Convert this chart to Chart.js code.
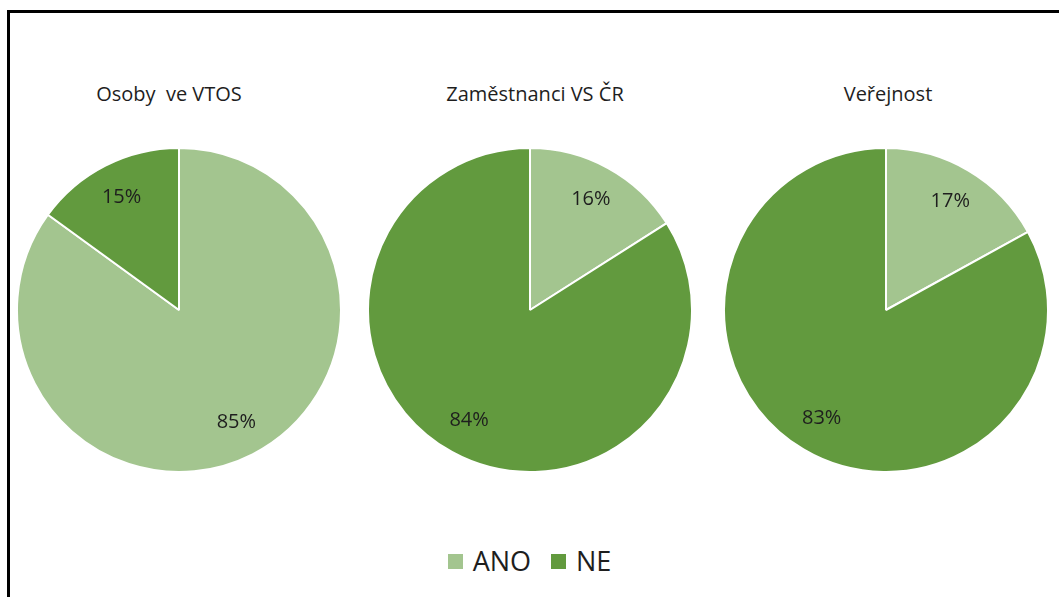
<!DOCTYPE html>
<html lang="cs">
<head>
<meta charset="UTF-8">
<script src="https://cdn.jsdelivr.net/npm/chart.js"></script>
<title>ANO / NE</title>
<style>
    body {
        margin: 0;
        background: #ffffff;
        width: 1059px;
        height: 597px;
        overflow: hidden;
        position: relative;
        font-family: 'Open Sans', sans-serif;
        color: #1e1e1e;
    }

    /* frame: only left and top edges are visible in the original */
    .frame {
        position: absolute;
        left: 7px;
        top: 10px;
        width: 1100px;
        height: 700px;
        border-left: 3px solid #000;
        border-top: 3px solid #000;
    }

    .title {
        position: absolute;
        top: 80px;
        width: 340px;
        text-align: center;
        font-size: 20px;
        white-space: pre;
    }

    .pie {
        position: absolute;
        top: 147px;
        width: 326px;
        height: 326px;
    }

    .legend {
        position: absolute;
        top: 542px;
        left: 0;
        width: 1059px;
        text-align: center;
        font-size: 27px;
    }

    .legend span.item {
        display: inline-block;
        margin: 0 10px;
    }

    .legend i {
        display: inline-block;
        width: 15px;
        height: 15px;
        margin-right: 10px;
        vertical-align: 2px;
    }
</style>
</head>
<body>
<div class="frame"></div>
<div id="titles"></div>
<div class="pie" style="left:16px"><canvas id="pie0"></canvas></div>
<div class="pie" style="left:367px"><canvas id="pie1"></canvas></div>
<div class="pie" style="left:723px"><canvas id="pie2"></canvas></div>
<div class="legend" id="legend"></div>

<script>
    // Data
    const categories = ['ANO', 'NE'];
    const groups = ['Osoby  ve VTOS', 'Zaměstnanci VS ČR', 'Veřejnost'];
    const ano = [85, 16, 17];
    const ne = [15, 84, 83];
    const colors = ['#a3c58f', '#629a3e'];

    const titleCenters = [169, 535, 888];

    // titles
    const titles = document.getElementById('titles');
    groups.forEach((g, i) => {
        const d = document.createElement('div');
        d.className = 'title';
        d.style.left = (titleCenters[i] - 170) + 'px';
        d.textContent = g;
        titles.appendChild(d);
    });

    // legend
    const legend = document.getElementById('legend');
    categories.forEach((c, i) => {
        const s = document.createElement('span');
        s.className = 'item';
        s.innerHTML = '<i style="background:' + colors[i] + '"></i>' + c;
        legend.appendChild(s);
    });

    // simple percent labels inside the slices
    const pctLabels = {
        id: 'pctLabels',
        afterDatasetsDraw(chart) {
            const ctx = chart.ctx;
            const meta = chart.getDatasetMeta(0);
            ctx.save();
            ctx.font = '20px "Open Sans", sans-serif';
            ctx.fillStyle = '#1e1e1e';
            ctx.textAlign = 'center';
            ctx.textBaseline = 'middle';
            meta.data.forEach((arc, i) => {
                const p = arc.getProps(['x', 'y', 'startAngle', 'endAngle', 'outerRadius'], true);
                const mid = (p.startAngle + p.endAngle) / 2;
                const r = p.outerRadius * 0.78;
                const v = chart.data.datasets[0].data[i];
                ctx.fillText(v + '%', p.x + Math.cos(mid) * r, p.y + Math.sin(mid) * r);
            });
            ctx.restore();
        }
    };

    groups.forEach((g, i) => {
        new Chart(document.getElementById('pie' + i), {
            type: 'pie',
            data: {
                labels: categories,
                datasets: [{
                    data: [ano[i], ne[i]],
                    backgroundColor: colors,
                    borderColor: '#ffffff',
                    borderWidth: 2
                }]
            },
            options: {
                responsive: true,
                maintainAspectRatio: false,
                animation: false,
                layout: { padding: 0 },
                plugins: {
                    legend: { display: false },
                    tooltip: { enabled: false }
                }
            },
            plugins: [pctLabels]
        });
    });
</script>
</body>
</html>
